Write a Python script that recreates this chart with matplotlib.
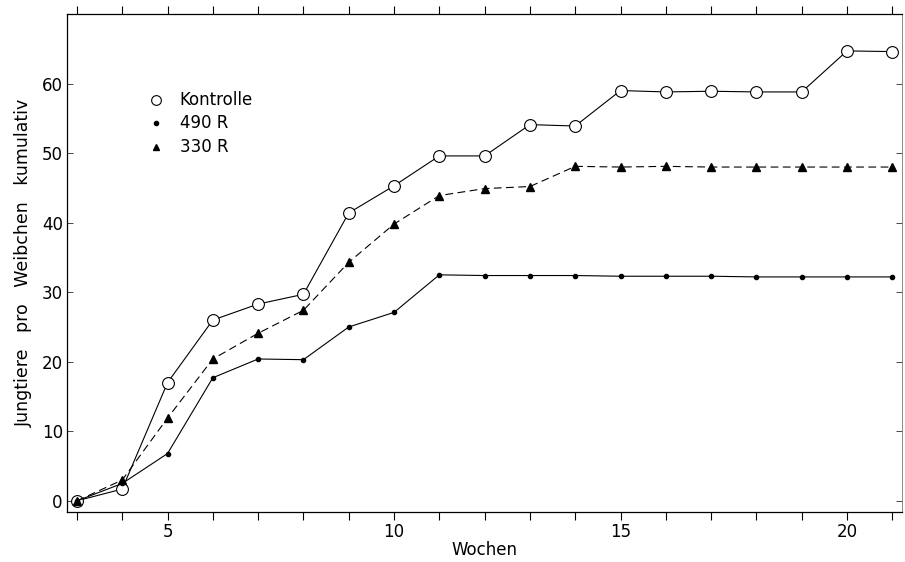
import numpy as np
from matplotlib import pyplot as plt

# Wochen (weeks) and cumulative young per female
weeks = [3, 4, 5, 6, 7, 8, 9, 10, 11, 12, 13, 14, 15, 16, 17, 18, 19, 20, 21]
kontrolle = [0, 1.7, 17.0, 26.0, 28.3, 29.7, 41.4, 45.3, 49.6, 49.6, 54.1, 53.9,
             59.0, 58.8, 58.9, 58.8, 58.8, 64.7, 64.6]
r490 = [0, 2.5, 6.8, 17.7, 20.4, 20.3, 25.0, 27.1, 32.5, 32.4, 32.4, 32.4,
        32.3, 32.3, 32.3, 32.2, 32.2, 32.2, 32.2]
r330 = [0, 3.0, 11.9, 20.4, 24.1, 27.4, 34.3, 39.8, 43.9, 44.9, 45.2, 48.1,
        48.0, 48.1, 48.0, 48.0, 48.0, 48.0, 48.0]

labels = ["Kontrolle", "490 R", "330 R"]
xtick_labels = [5, 10, 15, 20]
ytick_vals = [0, 10, 20, 30, 40, 50, 60]

fig = plt.figure(figsize=(9.05, 5.62), dpi=100)
ax = fig.add_axes([0.074, 0.089, 0.9225, 0.886])

ax.plot(weeks, kontrolle, color="black", lw=0.8, marker="o", ms=8.5,
        mfc="white", mec="black", mew=0.8, zorder=3)
ax.plot(weeks, r490, color="black", lw=0.8, marker="o", ms=3,
        mfc="black", mec="black", zorder=4)
ax.plot(weeks, r330, color="black", lw=0.8, ls=(0, (7, 4)), marker="^", ms=5.5,
        mfc="black", mec="black", zorder=4)

ax.set_xlim(2.78, 21.21)
ax.set_ylim(-1.6, 70)

ax.set_xticks(weeks, minor=True)
ax.set_xticks(xtick_labels)
ax.set_yticks(ytick_vals)
ax.tick_params(axis="both", which="both", direction="out", length=6, width=0.8,
               labelsize=12, top=True)
ax.tick_params(axis="y", which="both", right=True, direction="in", length=4,
               width=0.5)
ax.tick_params(axis="y", which="major", left=True)
ax.tick_params(axis="x", which="major", pad=2)
ax.tick_params(axis="y", which="major", pad=3)

for s in ax.spines.values():
    s.set_linewidth(0.9)
ax.spines["right"].set_color("#777777")
ax.spines["right"].set_linewidth(0.6)

ax.set_xlabel("Wochen", fontsize=12, labelpad=0)
ax.set_ylabel("Jungtiere   pro   Weibchen   kumulativ", fontsize=12.5, labelpad=6)

# legend drawn as markers and text
leg_y = [0.827, 0.781, 0.733]
leg_markers = [dict(marker="o", ms=7, mfc="white", mec="black", mew=0.8),
               dict(marker="o", ms=3, mfc="black", mec="black"),
               dict(marker="^", ms=5, mfc="black", mec="black")]
for yy, lab, mk in zip(leg_y, labels, leg_markers):
    ax.plot([0.107], [yy], transform=ax.transAxes, ls="none", **mk)
    ax.text(0.135, yy, lab, transform=ax.transAxes, fontsize=12,
            va="center", ha="left")

plt.savefig("out.png", dpi=100)
